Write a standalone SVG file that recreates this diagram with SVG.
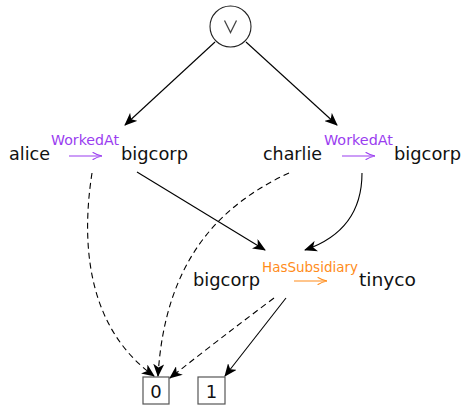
<svg xmlns="http://www.w3.org/2000/svg" width="464" height="406" viewBox="0 0 464 406">
<defs>
<marker id="ah" markerWidth="13" markerHeight="11" viewBox="0 0 13 11" refX="12" refY="5.5" orient="auto" markerUnits="userSpaceOnUse">
<path d="M0,0 L13,5.5 L0,11 L3.5,5.5 Z" fill="#000"/>
</marker>
<marker id="smp" markerWidth="10" markerHeight="8" viewBox="0 0 10 8" refX="10" refY="4" orient="auto" markerUnits="userSpaceOnUse">
<path d="M1,0.5 Q5,3 10,4 Q5,5 1,7.5" fill="none" stroke="#9a3df0" stroke-width="1.1" stroke-linecap="round"/>
</marker>
<marker id="smo" markerWidth="10" markerHeight="8" viewBox="0 0 10 8" refX="10" refY="4" orient="auto" markerUnits="userSpaceOnUse">
<path d="M1,0.5 Q5,3 10,4 Q5,5 1,7.5" fill="none" stroke="#ff8c1a" stroke-width="1.1" stroke-linecap="round"/>
</marker>
</defs>
<style>
.t{font-family:"DejaVu Sans",sans-serif;font-size:18px;fill:#111}
.p{font-family:"DejaVu Sans",sans-serif;font-size:14px;fill:#9a3df0}
.o{font-family:"DejaVu Sans",sans-serif;font-size:14px;fill:#ff8c1a}
.b{font-family:"DejaVu Sans",sans-serif;font-size:18px;fill:#111}
.e{fill:none;stroke:#000;stroke-width:1.1;marker-end:url(#ah)}
.d{stroke-dasharray:6,4}
.box{fill:#fff;stroke:#555;stroke-width:1.2}
</style>
<g id="or">
<circle cx="230.5" cy="26.5" r="20.5" fill="#fff" stroke="#222" stroke-width="1.1"/>
<path d="M224.5,20.5 L230.5,32.5 L236.5,20.5" fill="none" stroke="#444" stroke-width="1.3"/>
</g>
<g id="n1">
<text class="t" x="9" y="160" textLength="41" lengthAdjust="spacingAndGlyphs">alice</text>
<text class="p" x="51" y="145" textLength="68" lengthAdjust="spacingAndGlyphs">WorkedAt</text>
<line x1="69" y1="156" x2="102" y2="156" stroke="#9a3df0" stroke-width="1.1" marker-end="url(#smp)"/>
<text class="t" x="121" y="160" textLength="67" lengthAdjust="spacingAndGlyphs">bigcorp</text>
</g>
<g id="n2">
<text class="t" x="263" y="160" textLength="59" lengthAdjust="spacingAndGlyphs">charlie</text>
<text class="p" x="324" y="145" textLength="69" lengthAdjust="spacingAndGlyphs">WorkedAt</text>
<line x1="342" y1="156" x2="375" y2="156" stroke="#9a3df0" stroke-width="1.1" marker-end="url(#smp)"/>
<text class="t" x="394" y="160" textLength="67" lengthAdjust="spacingAndGlyphs">bigcorp</text>
</g>
<g id="n3">
<text class="t" x="193" y="286" textLength="67" lengthAdjust="spacingAndGlyphs">bigcorp</text>
<text class="o" x="262" y="272" textLength="96" lengthAdjust="spacingAndGlyphs">HasSubsidiary</text>
<line x1="294" y1="281" x2="327" y2="281" stroke="#ff8c1a" stroke-width="1.1" marker-end="url(#smo)"/>
<text class="t" x="359" y="286" textLength="57" lengthAdjust="spacingAndGlyphs">tinyco</text>
</g>
<g id="b0">
<rect class="box" x="143" y="377" width="26" height="27"/>
<text class="b" x="156" y="398" text-anchor="middle">0</text>
</g>
<g id="b1">
<rect class="box" x="198" y="377" width="27" height="27"/>
<text class="b" x="211.5" y="398" text-anchor="middle">1</text>
</g>
<g id="edges">
<line class="e" x1="215" y1="42" x2="125" y2="125"/>
<line class="e" x1="246" y1="42" x2="337" y2="125"/>
<path class="e d" d="M92,173 C80,250 90,330 154,376"/>
<line class="e" x1="137" y1="172" x2="265" y2="250"/>
<path class="e d" d="M289,173 C220,205 165,260 158,376"/>
<path class="e" d="M362,173 C362,215 340,238 305,250"/>
<path class="e d" d="M274,298 Q218,340 170,378"/>
<line class="e" x1="286" y1="298" x2="225" y2="376"/>
</g>
</svg>
